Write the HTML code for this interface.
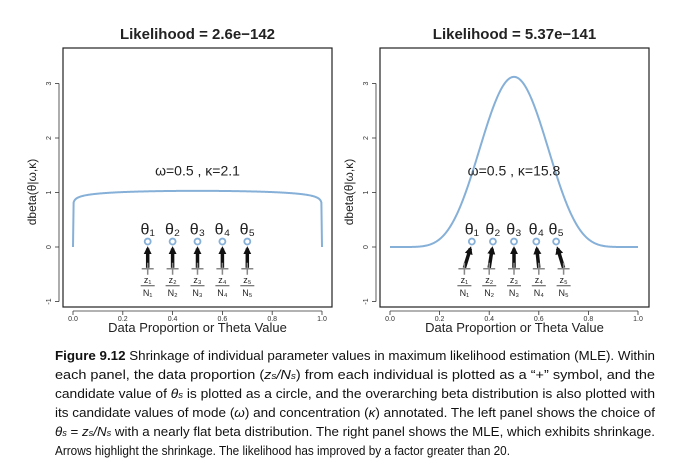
<!DOCTYPE html>
<html><head><meta charset="utf-8"><style>
html,body{margin:0;padding:0;background:#fff;width:678px;height:475px;overflow:hidden}
svg{display:block;font-family:"Liberation Sans",sans-serif}
</style></head><body>
<svg id="fig" width="678" height="475" viewBox="0 0 678 475"></svg>
<script>
const panelTitles=["Likelihood =  2.6e\u2212142","Likelihood =  5.37e\u2212141"];
const omegas=[0.5,0.5];
const kappas=[2.1,15.8];
const dataProps=[0.3,0.4,0.5,0.6,0.7];
const thetasLeft=[0.3,0.4,0.5,0.6,0.7];
const thetasRight=[0.33,0.415,0.5,0.59,0.67];
const xTicks=[0,0.2,0.4,0.6,0.8,1.0];
const xTickLabels=["0.0","0.2","0.4","0.6","0.8","1.0"];
const yTicks=[-1,0,1,2,3];
const kappaLabels=["2.1","15.8"];
const NS="http://www.w3.org/2000/svg";
const svg=document.getElementById('fig');
function mk(tag,attrs,parent){const e=document.createElementNS(NS,tag);for(const k in attrs)e.setAttribute(k,attrs[k]);(parent||svg).appendChild(e);return e;}
function lgamma(z){const g=7,c=[0.99999999999980993,676.5203681218851,-1259.1392167224028,771.32342877765313,-176.61502916214059,12.507343278686905,-0.13857109526572012,9.9843695780195716e-6,1.5056327351493116e-7];
 if(z<0.5)return Math.log(Math.PI/Math.sin(Math.PI*z))-lgamma(1-z);z-=1;let x=c[0];for(let i=1;i<g+2;i++)x+=c[i]/(z+i);const t=z+g+0.5;return 0.5*Math.log(2*Math.PI)+(z+0.5)*Math.log(t)-t+Math.log(x);}
function dbeta(t,a,b){if(t<=0||t>=1)return 0;return Math.exp((a-1)*Math.log(t)+(b-1)*Math.log(1-t)+lgamma(a+b)-lgamma(a)-lgamma(b));}
const defs=mk('defs',{});
const mar=mk('marker',{id:'ah',viewBox:'0 0 10 10',refX:'7',refY:'5',markerWidth:'2.3',markerHeight:'2.3',orient:'auto'},defs);
mk('path',{d:'M0,0 L10,5 L0,10 z',fill:'#111'},mar);
const subs=["\u2081","\u2082","\u2083","\u2084","\u2085"];
const panels=[{x0:73,x1:322,bl:63,br:332,thetas:thetasLeft},{x0:390,x1:638,bl:380,br:649,thetas:thetasRight}];
const y0=247,yU=54.5,bt=48,bb=307;
panels.forEach((p,pi)=>{
 const g=mk('g',{});
 
 
 const X=v=>p.x0+v*(p.x1-p.x0), Y=v=>y0-v*yU;
 const box=mk('rect',{x:p.bl,y:bt,width:p.br-p.bl,height:bb-bt,fill:'none',stroke:'#222','stroke-width':1.2},g);
 
 const tt=mk('text',{x:(p.bl+p.br)/2,y:39,'text-anchor':'middle','font-size':15,'font-weight':'bold',fill:'#222'},g);tt.textContent=panelTitles[pi];
 
 mk('line',{x1:X(0),x2:X(1),y1:bb+4,y2:bb+4,stroke:'#333','stroke-width':0.8},g);
 xTicks.forEach((v,i)=>{mk('line',{x1:X(v),x2:X(v),y1:bb+4,y2:bb+8,stroke:'#333','stroke-width':0.8},g);
  const t=mk('text',{x:X(v),y:bb+14,'text-anchor':'middle','font-size':7,fill:'#333'},g);t.textContent=xTickLabels[i];
  });
 const xl=mk('text',{x:(p.bl+p.br)/2,y:bb+25,'text-anchor':'middle','font-size':13,fill:'#222'},g);xl.textContent="Data Proportion or Theta Value";
 
 const ax=p.bl-4;
 mk('line',{x1:ax,x2:ax,y1:Y(-1),y2:Y(3),stroke:'#333','stroke-width':0.8},g);
 yTicks.forEach(v=>{mk('line',{x1:ax-4,x2:ax,y1:Y(v),y2:Y(v),stroke:'#333','stroke-width':0.8},g);
  const t=mk('text',{x:ax-8,y:Y(v),'text-anchor':'middle','font-size':7,fill:'#333',transform:`rotate(-90 ${ax-8} ${Y(v)})`},g);t.textContent=String(v);
  });
 const yl=mk('text',{x:p.bl-27,y:192,'text-anchor':'middle','font-size':12,fill:'#222',transform:`rotate(-90 ${p.bl-27} 192)`},g);yl.textContent="dbeta(\u03b8|\u03c9,\u03ba)";
 
 const a=omegas[pi]*(kappas[pi]-2)+1,b=(1-omegas[pi])*(kappas[pi]-2)+1;
 let d=`M${X(0)},${Y(0)}`;for(let i=1;i<400;i++){const t=i/400;d+=` L${X(t).toFixed(2)},${Y(dbeta(t,a,b)).toFixed(2)}`;}d+=` L${X(1)},${Y(0)}`;
 const c=mk('path',{d:d,fill:'none',stroke:'#86b0d8','stroke-width':2},g);
 
 const an=mk('text',{x:X(0.5),y:Y(1.4)+5,'text-anchor':'middle','font-size':14,fill:'#222'},g);an.textContent=`\u03c9=0.5 , \u03ba=${kappaLabels[pi]}`;
 
 dataProps.forEach((z,i)=>{
  const th=p.thetas[i],xp=X(z),xc=X(th),yp=Y(-0.4),yc=Y(0.1);
  const ar=mk('line',{x1:xp,y1:yp-1,x2:xc+(xp-xc)*0.2,y2:yc+7,stroke:'#111','stroke-width':3.5,'marker-end':'url(#ah)'},g);
  
  const pl=mk('path',{d:`M${xp-6},${yp} H${xp+6} M${xp},${yp-6} V${yp+6}`,stroke:'#888','stroke-width':1.5,fill:'none'},g);
  
  const ci=mk('circle',{cx:xc,cy:yc,r:3,fill:'#fff',stroke:'#86b0d8','stroke-width':1.8},g);
  
  const tl=mk('text',{x:xc,y:Y(0.1)-7,'text-anchor':'middle','font-size':16,fill:'#222'},g);tl.textContent="\u03b8"+subs[i];
  
  const fz=mk('text',{x:xp,y:yp+14,'text-anchor':'middle','font-size':9,fill:'#222'},g);fz.textContent="z"+subs[i];
  mk('line',{x1:xp-7,x2:xp+7,y1:yp+17,y2:yp+17,stroke:'#222','stroke-width':0.8},g);
  const fn=mk('text',{x:xp,y:yp+27,'text-anchor':'middle','font-size':9,fill:'#222'},g);fn.textContent="N"+subs[i];
  
 });
});
const capLines=[
 ["<tspan font-weight='bold'>Figure 9.12</tspan>  Shrinkage of individual parameter values in maximum likelihood estimation (MLE). Within",600],
 ["each panel, the data proportion (<tspan font-style='italic'>z<tspan font-size='9'>s</tspan>/N<tspan font-size='9'>s</tspan></tspan>) from each individual is plotted as a \u201c+\u201d symbol, and the",600],
 ["candidate value of <tspan font-style='italic'>\u03b8<tspan font-size='9'>s</tspan></tspan> is plotted as a circle, and the overarching beta distribution is also plotted with",600],
 ["its candidate values of mode (<tspan font-style='italic'>\u03c9</tspan>) and concentration (<tspan font-style='italic'>\u03ba</tspan>) annotated. The left panel shows the choice of",600],
 ["<tspan font-style='italic'>\u03b8<tspan font-size='9'>s</tspan></tspan> = <tspan font-style='italic'>z<tspan font-size='9'>s</tspan>/N<tspan font-size='9'>s</tspan></tspan> with a nearly flat beta distribution. The right panel shows the MLE, which exhibits shrinkage.",600],
 ["Arrows highlight the shrinkage. The likelihood has improved by a factor greater than 20.",455]];
capLines.forEach((l,i)=>{
 const t=mk('text',{x:55,y:360+i*19,'font-size':13,fill:'#111',textLength:l[1],lengthAdjust:'spacingAndGlyphs'});
 t.innerHTML=l[0];
 
 
});
</script>
</body></html>
